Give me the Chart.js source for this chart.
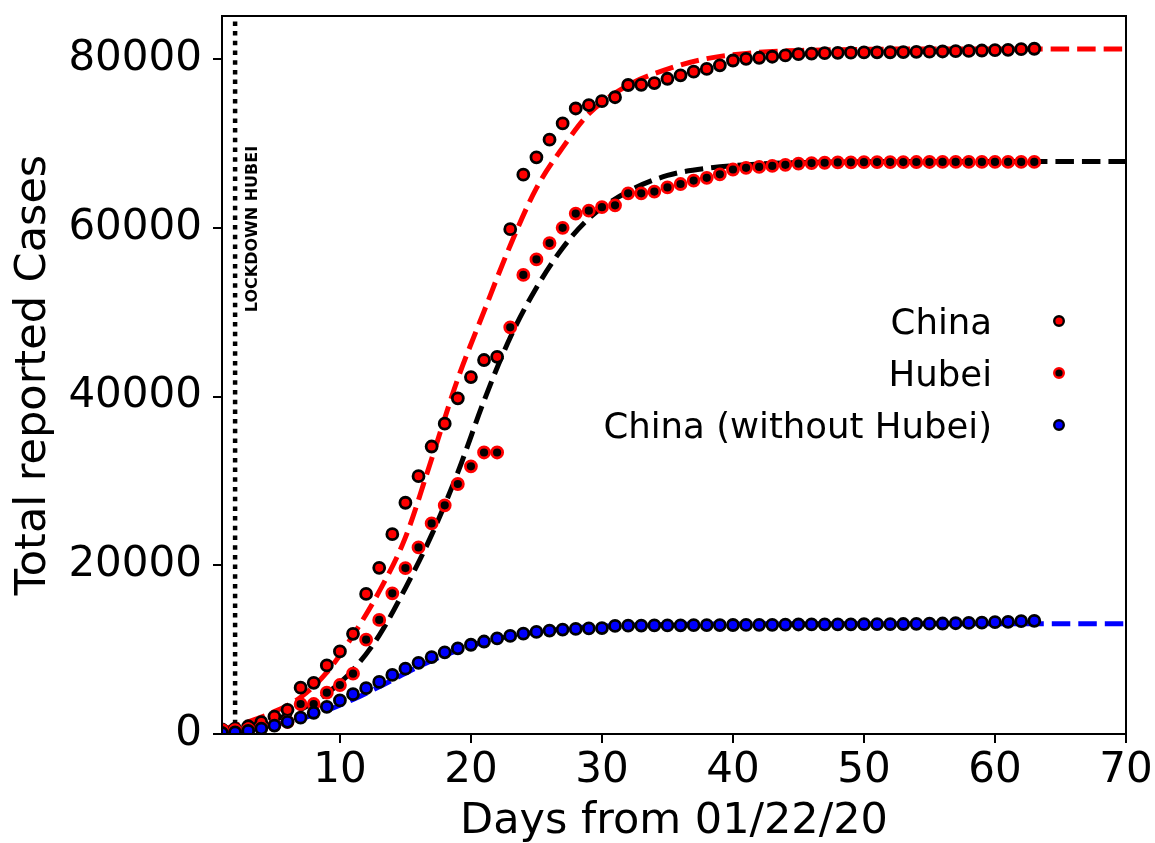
<!DOCTYPE html>
<html lang="en">
<head>
<meta charset="UTF-8">
<title>Total reported Cases</title>
<script src="https://cdn.jsdelivr.net/npm/chart.js"></script>
<style>
  html, body { margin: 0; padding: 0; background: #fff; }
  #wrap { width: 1155px; height: 843px; }
</style>
</head>
<body>
<div id="wrap"><canvas id="casesChart"></canvas></div>
<script>
// days counted from 01/22/20
const days = Array.from({ length: 63 }, (_, i) => i + 1);

const china = [
  547, 639, 916, 1399, 2062, 2863, 5494, 6070, 8124, 9783,
  11871, 16607, 19693, 23680, 27409, 30553, 34075, 36778, 39790, 42306,
  44327, 44699, 59832, 66292, 68347, 70446, 72364, 74139, 74546, 74999,
  75472, 76922, 76938, 77152, 77660, 78065, 78498, 78824, 79251, 79826,
  80026, 80151, 80271, 80422, 80573, 80652, 80699, 80735, 80757, 80785,
  80793, 80801, 80827, 80849, 80869, 80894, 80927, 80966, 81008, 81054,
  81093, 81171, 81218
];
const hubei = [
  444, 444, 549, 761, 1058, 1423, 3554, 3554, 4903, 5806,
  7153, 11177, 13522, 16678, 19665, 22112, 24953, 27100, 29631, 31728,
  33366, 33366, 48206, 54406, 56249, 58182, 59989, 61682, 62031, 62442,
  62662, 64084, 64084, 64287, 64786, 65187, 65596, 65914, 66337, 66907,
  67103, 67217, 67332, 67466, 67592, 67666, 67707, 67743, 67760, 67773,
  67781, 67786, 67790, 67794, 67798, 67799, 67800, 67800, 67800, 67800,
  67800, 67800, 67801
];
const withoutHubei = [
  103, 195, 367, 638, 1004, 1440, 1940, 2516, 3221, 3977,
  4718, 5430, 6171, 7002, 7744, 8441, 9122, 9678, 10159, 10578,
  10961, 11333, 11626, 11886, 12098, 12264, 12375, 12457, 12515, 12557,
  12810, 12838, 12854, 12865, 12874, 12878, 12902, 12910, 12914, 12919,
  12923, 12934, 12939, 12956, 12981, 12986, 12992, 12992, 12997, 13012,
  13012, 13015, 13037, 13055, 13071, 13095, 13127, 13166, 13208, 13254,
  13293, 13371, 13417
];

// fitted curves (dashed)
const fitDays = [1, 3, 5, 7, 9, 11, 13, 15, 17, 19, 21, 23, 25, 27, 29, 32, 35, 38, 42, 46, 50, 55, 60, 65, 70];
const chinaFit = [550, 1450, 2650, 4350, 7300, 11700, 16900, 23300, 32600, 42100, 50100, 57900, 64700, 69500, 73500, 76900, 78800, 80050, 80800, 81050, 81150, 81200, 81200, 81200, 81200];
const hubeiFit = [500, 950, 1700, 2900, 4800, 7600, 11700, 17300, 23600, 31000, 39500, 47000, 52900, 57600, 61100, 64300, 66200, 67050, 67550, 67750, 67830, 67860, 67860, 67860, 67860];
const withoutHubeiFit = [300, 600, 1100, 1800, 2800, 4100, 5600, 7200, 8700, 9900, 10900, 11600, 12100, 12450, 12700, 12880, 12980, 13030, 13060, 13070, 13070, 13070, 13070, 13070, 13070];

const lockdownDay = 2;
const lockdownText = 'LOCKDOWN HUBEI';
const lockdownTextAt = [3, 50000];

const xTicks = [10, 20, 30, 40, 50, 60, 70];
const yTicks = [0, 20000, 40000, 60000, 80000];
const xRange = [1, 70];
const yRange = [0, 85100];

const legendLabels = ['China', 'Hubei', 'China (without Hubei)'];

const FONT = "'DejaVu Sans', 'Liberation Sans', sans-serif";

function pairs(xs, ys) {
  return xs.map((x, i) => ({ x: x, y: ys[i] }));
}

function dots(label, data, fill, edge, order) {
  return {
    label: label, data: pairs(days, data), showLine: false,
    pointRadius: 5.5, pointBorderWidth: 2.8,
    pointBackgroundColor: fill, pointBorderColor: edge,
    borderColor: edge, backgroundColor: fill, order: order
  };
}

function fitLine(data, color, order) {
  return {
    data: pairs(fitDays, data), borderColor: color, borderWidth: 5,
    borderDash: [18.5, 8], pointRadius: 0, fill: false,
    cubicInterpolationMode: 'monotone', order: order
  };
}

// frame, legend and lockdown label
const extras = {
  id: 'extras',
  afterDatasetsDraw(chart) {
    const ctx = chart.ctx;
    const a = chart.chartArea;
    const xs = chart.scales.x, ys = chart.scales.y;

    ctx.save();
    ctx.strokeStyle = '#000';
    ctx.lineWidth = 2;
    ctx.strokeRect(a.left, a.top, a.right - a.left, a.bottom - a.top);

    // rotated lockdown label
    ctx.translate(xs.getPixelForValue(lockdownTextAt[0]) - 3, ys.getPixelForValue(lockdownTextAt[1]));
    ctx.rotate(-Math.PI / 2);
    ctx.fillStyle = '#000';
    ctx.font = 'bold 16px ' + FONT;
    ctx.textAlign = 'left';
    ctx.textBaseline = 'top';
    ctx.fillText(lockdownText, 0, 0);
    ctx.restore();

    // legend, markers to the right of the text
    ctx.save();
    ctx.font = '35.5px ' + FONT;
    ctx.textAlign = 'right';
    ctx.textBaseline = 'alphabetic';
    const rows = [321, 373, 425];
    legendLabels.forEach((lab, i) => {
      const ds = chart.data.datasets[i];
      ctx.fillStyle = '#000';
      ctx.fillText(lab, 992, rows[i] + 12.8);
      ctx.beginPath();
      ctx.arc(1059, rows[i], 4.8, 0, Math.PI * 2);
      ctx.fillStyle = ds.pointBackgroundColor;
      ctx.fill();
      ctx.lineWidth = 2.4;
      ctx.strokeStyle = ds.pointBorderColor;
      ctx.stroke();
    });
    ctx.restore();
  }
};

new Chart(document.getElementById('casesChart').getContext('2d'), {
  type: 'line',
  data: {
    datasets: [
      dots(legendLabels[0], china, '#ff0000', '#000000', 2),
      dots(legendLabels[1], hubei, '#000000', '#ff0000', 1),
      dots(legendLabels[2], withoutHubei, '#0000ff', '#000000', 0),
      fitLine(chinaFit, '#ff0000', 5),
      fitLine(hubeiFit, '#000000', 4),
      fitLine(withoutHubeiFit, '#0000ff', 3),
      {
        data: [{ x: lockdownDay, y: yRange[0] }, { x: lockdownDay, y: yRange[1] }],
        borderColor: '#000', borderWidth: 4.5, borderDash: [4.5, 5.2],
        pointRadius: 0, order: 6
      }
    ]
  },
  options: {
    responsive: true,
    maintainAspectRatio: false,
    animation: false,
    devicePixelRatio: 1,
    layout: { padding: { top: 16, right: 29, left: 0, bottom: 0 } },
    plugins: { legend: { display: false }, tooltip: { enabled: false } },
    scales: {
      x: {
        type: 'linear', min: xRange[0], max: xRange[1],
        afterBuildTicks: s => { s.ticks = xTicks.map(v => ({ value: v })); },
        afterFit: s => { s.height = 109; s.paddingLeft = 0; s.paddingRight = 0; },
        grid: { drawOnChartArea: false, drawTicks: true, tickLength: 9, lineWidth: 2, color: '#000' },
        border: { display: false },
        ticks: { autoSkip: false, maxRotation: 0, padding: 3, color: '#000', font: { family: FONT, size: 42 } },
        title: { display: true, text: 'Days from 01/22/20', color: '#000', font: { family: FONT, size: 43, lineHeight: 1 }, padding: { top: 0, bottom: 0 } }
      },
      y: {
        type: 'linear', min: yRange[0], max: yRange[1],
        afterBuildTicks: s => { s.ticks = yTicks.map(v => ({ value: v })); },
        afterFit: s => { s.width = 222; s.paddingTop = 0; s.paddingBottom = 0; },
        grid: { drawOnChartArea: false, drawTicks: true, tickLength: 9, lineWidth: 2, color: '#000' },
        border: { display: false },
        ticks: { padding: 11, color: '#000', font: { family: FONT, size: 42 }, callback: v => String(v) },
        title: { display: true, text: 'Total reported Cases', color: '#000', font: { family: FONT, size: 43 }, padding: { top: 8, bottom: 0 } }
      }
    }
  },
  plugins: [extras]
});
</script>
</body>
</html>
